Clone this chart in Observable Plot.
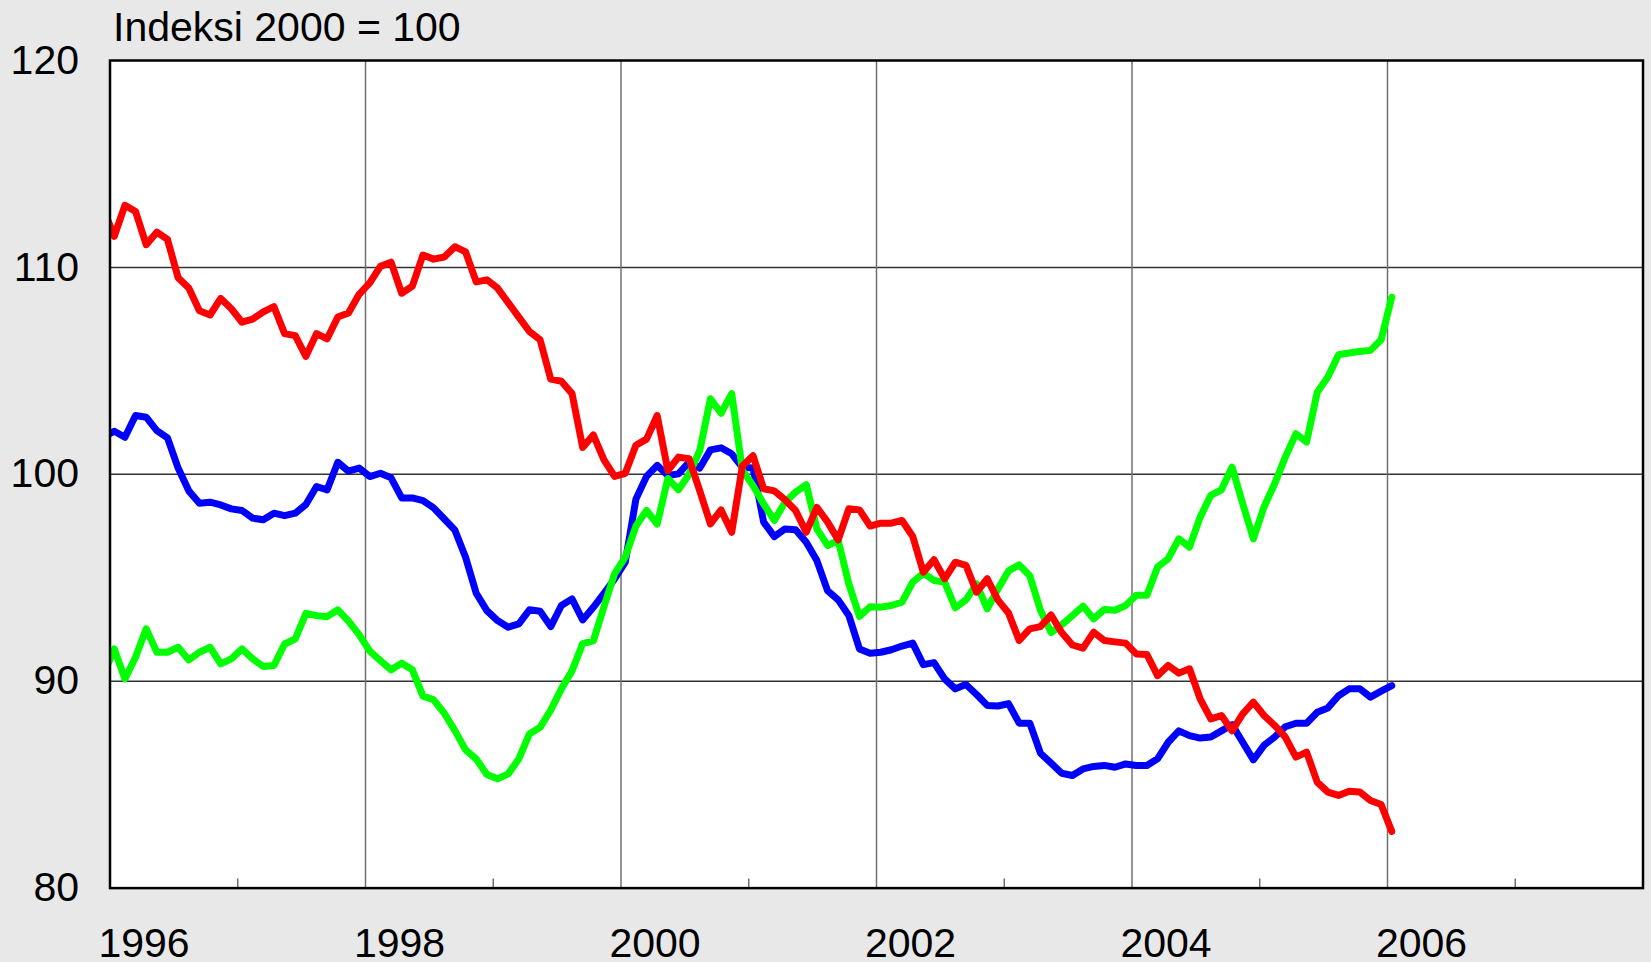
<!DOCTYPE html>
<html>
<head>
<meta charset="utf-8">
<script src="https://cdn.jsdelivr.net/npm/d3@7"></script>
<script src="https://cdn.jsdelivr.net/npm/@observablehq/plot@0.6"></script>
<style>
  html, body { margin: 0; padding: 0; background: #e8e8e8; }
  #chart svg { display: block; }
</style>
</head>
<body>
<div id="chart"></div>
<script>
// Monthly index values, Dec 1995 .. Jan 2006 (first value falls just left of the frame and is clipped)
const firstMonth = -1; // Dec 1995
const red = [
  112.8,
  111.5, 113.0, 112.7, 111.1, 111.7, 111.35, 109.5, 109.0, 107.9, 107.7,
  108.5, 108.0, 107.35, 107.5, 107.85, 108.1, 106.8, 106.7, 105.7, 106.8,
  106.55, 107.6, 107.8, 108.7, 109.25, 110.05, 110.25, 108.75, 109.1, 110.6,
  110.4, 110.5, 111.0, 110.75, 109.3, 109.4, 109.0, 108.3, 107.6, 106.9,
  106.5, 104.6, 104.5, 103.9, 101.3, 101.9, 100.7, 99.9, 100.05, 101.4,
  101.7, 102.84, 100.18, 100.83, 100.75, 99.2, 97.6, 98.28, 97.2, 100.4,
  100.9, 99.3, 99.2, 98.77, 98.25, 97.2, 98.4, 97.7, 96.83, 98.33,
  98.28, 97.5, 97.64, 97.64, 97.77, 97.0, 95.27, 95.87, 94.95, 95.75,
  95.6, 94.3, 94.95, 93.93, 93.3, 91.97, 92.53, 92.64, 93.2, 92.35,
  91.75, 91.6, 92.37, 91.97, 91.9, 91.84, 91.32, 91.29, 90.27, 90.76,
  90.39, 90.6, 89.15, 88.18, 88.34, 87.6, 88.42, 88.99, 88.34, 87.86,
  87.3, 86.33, 86.57, 85.12, 84.64, 84.48, 84.68, 84.64, 84.23, 84.04,
  82.74
];
const green = [
  90.3,
  91.56, 90.11, 91.16, 92.53, 91.4, 91.4, 91.64, 91.03, 91.4, 91.64,
  90.84, 91.08, 91.56, 91.08, 90.71, 90.76, 91.8, 92.04, 93.28, 93.17,
  93.12, 93.45, 92.9, 92.25, 91.45, 91.0, 90.55, 90.87, 90.55, 89.28,
  89.1, 88.45, 87.61, 86.68, 86.24, 85.49, 85.28, 85.52, 86.24, 87.45,
  87.77, 88.6, 89.63, 90.5, 91.82, 91.95, 93.6, 95.2, 96.0, 97.5,
  98.25, 97.6, 99.8, 99.25, 100.0, 101.15, 103.65, 102.95, 103.9, 100.2,
  99.46, 98.57, 97.77, 98.65, 99.14, 99.5, 97.36, 96.56, 96.8, 94.7,
  93.13, 93.6, 93.58, 93.66, 93.82, 94.79, 95.22, 94.87, 94.79, 93.55,
  93.93, 94.7, 93.5, 94.45, 95.33, 95.62, 95.1, 93.43, 92.35, 92.73,
  93.17, 93.63, 93.01, 93.47, 93.43, 93.66, 94.15, 94.15, 95.52, 95.92,
  96.88, 96.48, 97.93, 98.98, 99.25, 100.35, 98.58, 96.88, 98.42, 99.54,
  100.83, 101.96, 101.56, 103.97, 104.7, 105.78, 105.86, 105.94, 105.99, 106.5,
  108.56
];
const blue = [
  101.8,
  102.08, 101.79, 102.84, 102.76, 102.11, 101.76, 100.3, 99.2, 98.6, 98.65,
  98.52, 98.33, 98.25, 97.88, 97.8, 98.12, 98.0, 98.12, 98.54, 99.41,
  99.25, 100.58, 100.15, 100.3, 99.89, 100.05, 99.83, 98.86, 98.86, 98.73,
  98.38, 97.84, 97.3, 95.99, 94.25, 93.41, 92.93, 92.61, 92.77, 93.45,
  93.38, 92.64, 93.66, 93.98, 92.96, 93.57, 94.25, 94.94, 95.75, 98.8,
  99.9, 100.43, 99.94, 100.02, 100.59, 100.3, 101.18, 101.28, 100.99, 100.34,
  100.31, 97.69, 96.99, 97.36, 97.32, 96.72, 95.83, 94.38, 93.93, 93.18,
  91.56, 91.35, 91.4, 91.52, 91.7, 91.84, 90.8, 90.9, 90.11, 89.63,
  89.84, 89.36, 88.83, 88.8, 88.92, 87.97, 87.97, 86.52, 86.04, 85.55,
  85.44, 85.76, 85.88, 85.93, 85.84, 86.0, 85.93, 85.93, 86.25, 87.05,
  87.6, 87.37, 87.25, 87.3, 87.6, 87.9, 87.05, 86.2, 86.9, 87.3,
  87.8, 87.97, 87.97, 88.5, 88.71, 89.3, 89.63, 89.63, 89.23, 89.52,
  89.79
];
const yearLabels = [1996, 1998, 2000, 2002, 2004, 2006];
const gridYears = [1998, 2000, 2002, 2004, 2006];
const minorYears = [1997, 1999, 2001, 2003, 2005, 2007];
const yTicks = [80, 90, 100, 110, 120];
const yGrid = [90, 100, 110];
const title = "Indeksi 2000 = 100";

// month position: data plotted around the middle of each month
const toYear = i => 1996 + (firstMonth + i + 0.4) / 12;
const rows = (vals, name) => vals.map((v, i) => ({x: toYear(i), v, name}));
const dBlue = rows(blue, "blue"), dGreen = rows(green, "green"), dRed = rows(red, "red");

const font = "'Liberation Sans', Arial, Helvetica, sans-serif";
const chart = Plot.plot({
  width: 1651,
  height: 962,
  marginLeft: 109.5,
  marginRight: 8.5,
  marginTop: 60,
  marginBottom: 74.4,
  x: {domain: [1996, 2008], label: null},
  y: {domain: [80, 120], label: null},
  style: {background: "#e8e8e8", fontFamily: font, fontSize: "41px", color: "black", overflow: "visible"},
  marks: [
    Plot.frame({fill: "white"}),
    Plot.ruleY(yGrid, {stroke: "#333", strokeWidth: 1.5}),
    Plot.ruleX(gridYears, {stroke: "#707070", strokeWidth: 1.5}),
    Plot.axisX(minorYears, {anchor: "bottom", tickSize: 9, dy: -9, text: null, stroke: "#707070", strokeWidth: 1.5}),
    Plot.line(dBlue, {x: "x", y: "v", stroke: "#0000ff", strokeWidth: 7, strokeLinejoin: "round", strokeLinecap: "round", clip: true}),
    Plot.line(dGreen, {x: "x", y: "v", stroke: "#00ff00", strokeWidth: 7, strokeLinejoin: "round", strokeLinecap: "round", clip: true}),
    Plot.line(dRed, {x: "x", y: "v", stroke: "#ff0000", strokeWidth: 7, strokeLinejoin: "round", strokeLinecap: "round", clip: true}),
    Plot.frame({stroke: "black", strokeWidth: 2.5}),
    Plot.axisY(yTicks, {anchor: "left", tickSize: 0, tickPadding: 31, fontSize: 41, fill: "black", tickFormat: d => String(d)}),
    Plot.axisX(yearLabels, {anchor: "bottom", tickSize: 0, tickPadding: 40, dx: 34, fontSize: 41, fill: "black", tickFormat: d => String(d)}),
    Plot.text([title], {frameAnchor: "top-left", textAnchor: "start", lineAnchor: "middle", dx: 3, dy: -33, fontSize: 41, fill: "black"})
  ]
});
document.getElementById("chart").appendChild(chart);
</script>
</body>
</html>
